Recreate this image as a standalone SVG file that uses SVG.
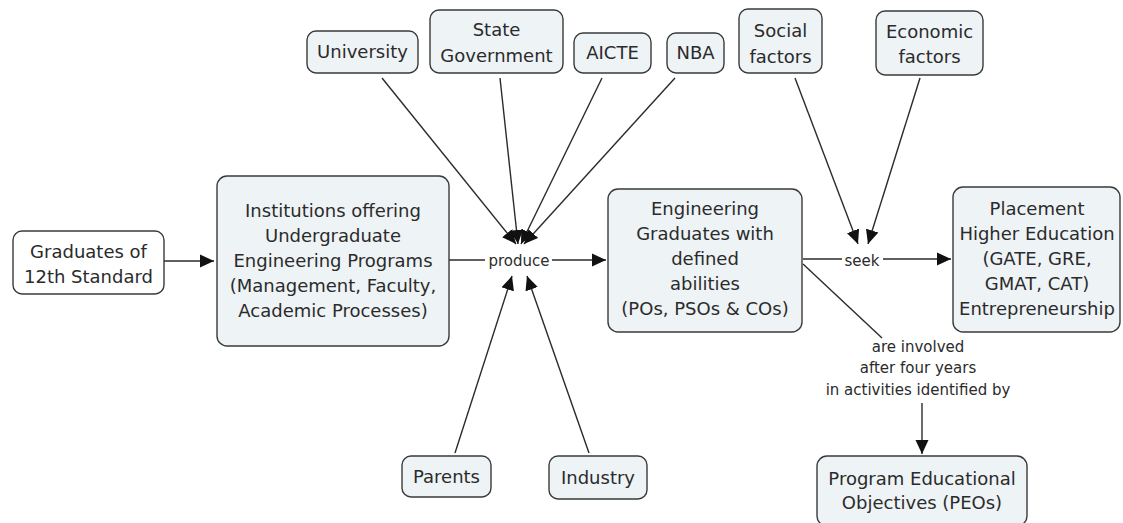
<svg xmlns="http://www.w3.org/2000/svg" width="1123" height="523" viewBox="0 0 1123 523">
  <style>
    .box { fill: #eef3f6; stroke: #3a3a3a; stroke-width: 1.4; }
    .plain { fill: #ffffff; stroke: #3a3a3a; stroke-width: 1.4; }
    .t { font-family: "DejaVu Sans", Verdana, sans-serif; font-size: 18px; fill: #2b2b2b; text-anchor: middle; }
    .lbl { font-family: "DejaVu Sans", Verdana, sans-serif; font-size: 15px; fill: #2b2b2b; text-anchor: middle; }
    .ln { stroke: #2b2b2b; stroke-width: 1.4; fill: none; }
    .arr { stroke: #2b2b2b; stroke-width: 1.4; fill: none; marker-end: url(#head); }
  </style>
  <defs>
    <marker id="head" markerWidth="14" markerHeight="14" refX="14" refY="7" orient="auto" markerUnits="userSpaceOnUse">
      <path d="M0,0.5 L14,7 L0,13.5 Z" fill="#111"/>
    </marker>
  </defs>

  <rect width="1123" height="523" fill="#ffffff"/>

  <!-- connectors and linking phrases -->
  <g id="connectors">
    <line class="arr" x1="164" y1="261" x2="214" y2="261"/>
    <line class="ln" x1="449" y1="260" x2="485" y2="260"/>
    <line class="arr" x1="552" y1="260" x2="606" y2="260"/>
    <line class="arr" x1="382" y1="78" x2="516" y2="244"/>
    <line class="arr" x1="500" y1="78" x2="518" y2="244"/>
    <line class="arr" x1="602" y1="78" x2="521" y2="244"/>
    <line class="arr" x1="675" y1="78" x2="524" y2="244"/>
    <line class="arr" x1="455" y1="453" x2="512" y2="276"/>
    <line class="arr" x1="589" y1="453" x2="527" y2="276"/>
    <text class="lbl" x="519" y="266">produce</text>

    <line class="ln" x1="803" y1="259" x2="842" y2="259"/>
    <line class="arr" x1="883" y1="259" x2="951" y2="259"/>
    <line class="arr" x1="795" y1="78" x2="858" y2="244"/>
    <line class="arr" x1="920" y1="78" x2="868" y2="244"/>
    <text class="lbl" x="862" y="266">seek</text>

    <line class="ln" x1="803" y1="264" x2="882" y2="338"/>
    <text class="lbl" x="918" y="352">are involved</text>
    <text class="lbl" x="918" y="373">after four years</text>
    <text class="lbl" x="918" y="395">in activities identified by</text>
    <line class="arr" x1="922" y1="403" x2="922" y2="454"/>
  </g>

  <g id="graduates12">
    <rect class="plain" x="13" y="231" width="151" height="63" rx="9"/>
    <text class="t" x="88.5" y="258">Graduates of</text>
    <text class="t" x="88.5" y="283">12th Standard</text>
  </g>

  <g id="institutions">
    <rect class="box" x="217" y="176" width="232" height="170" rx="10"/>
    <text class="t" x="333" y="217">Institutions offering</text>
    <text class="t" x="333" y="242">Undergraduate</text>
    <text class="t" x="333" y="267">Engineering Programs</text>
    <text class="t" x="333" y="292">(Management, Faculty,</text>
    <text class="t" x="333" y="317">Academic Processes)</text>
  </g>

  <g id="university">
    <rect class="box" x="307" y="31" width="111" height="42" rx="9"/>
    <text class="t" x="362.5" y="58">University</text>
  </g>

  <g id="stategov">
    <rect class="box" x="430" y="10" width="133" height="63" rx="9"/>
    <text class="t" x="496.5" y="36">State</text>
    <text class="t" x="496.5" y="62">Government</text>
  </g>

  <g id="aicte">
    <rect class="box" x="574" y="33" width="77" height="40" rx="9"/>
    <text class="t" x="612.5" y="59">AICTE</text>
  </g>

  <g id="nba">
    <rect class="box" x="667" y="33" width="57" height="40" rx="9"/>
    <text class="t" x="695.5" y="59">NBA</text>
  </g>

  <g id="social">
    <rect class="box" x="739" y="9" width="83" height="64" rx="9"/>
    <text class="t" x="780.5" y="37">Social</text>
    <text class="t" x="780.5" y="63">factors</text>
  </g>

  <g id="economic">
    <rect class="box" x="876" y="11" width="107" height="64" rx="9"/>
    <text class="t" x="929.5" y="38">Economic</text>
    <text class="t" x="929.5" y="63">factors</text>
  </g>

  <g id="enggrads">
    <rect class="box" x="608" y="189" width="194" height="143" rx="10"/>
    <text class="t" x="705" y="215">Engineering</text>
    <text class="t" x="705" y="240">Graduates with</text>
    <text class="t" x="705" y="265">defined</text>
    <text class="t" x="705" y="290">abilities</text>
    <text class="t" x="705" y="315">(POs, PSOs &amp; COs)</text>
  </g>

  <g id="placement">
    <rect class="box" x="953" y="187" width="167" height="145" rx="10"/>
    <text class="t" x="1037" y="215">Placement</text>
    <text class="t" x="1037" y="240">Higher Education</text>
    <text class="t" x="1037" y="265">(GATE, GRE,</text>
    <text class="t" x="1037" y="290">GMAT, CAT)</text>
    <text class="t" x="1037" y="315">Entrepreneurship</text>
  </g>

  <g id="parents">
    <rect class="box" x="402" y="456" width="89" height="41" rx="9"/>
    <text class="t" x="446.5" y="483">Parents</text>
  </g>

  <g id="industry">
    <rect class="box" x="549" y="456" width="98" height="43" rx="9"/>
    <text class="t" x="598" y="484">Industry</text>
  </g>

  <g id="peos">
    <rect class="box" x="817" y="456" width="210" height="70" rx="10"/>
    <text class="t" x="922" y="485">Program Educational</text>
    <text class="t" x="922" y="509">Objectives (PEOs)</text>
  </g>
</svg>
